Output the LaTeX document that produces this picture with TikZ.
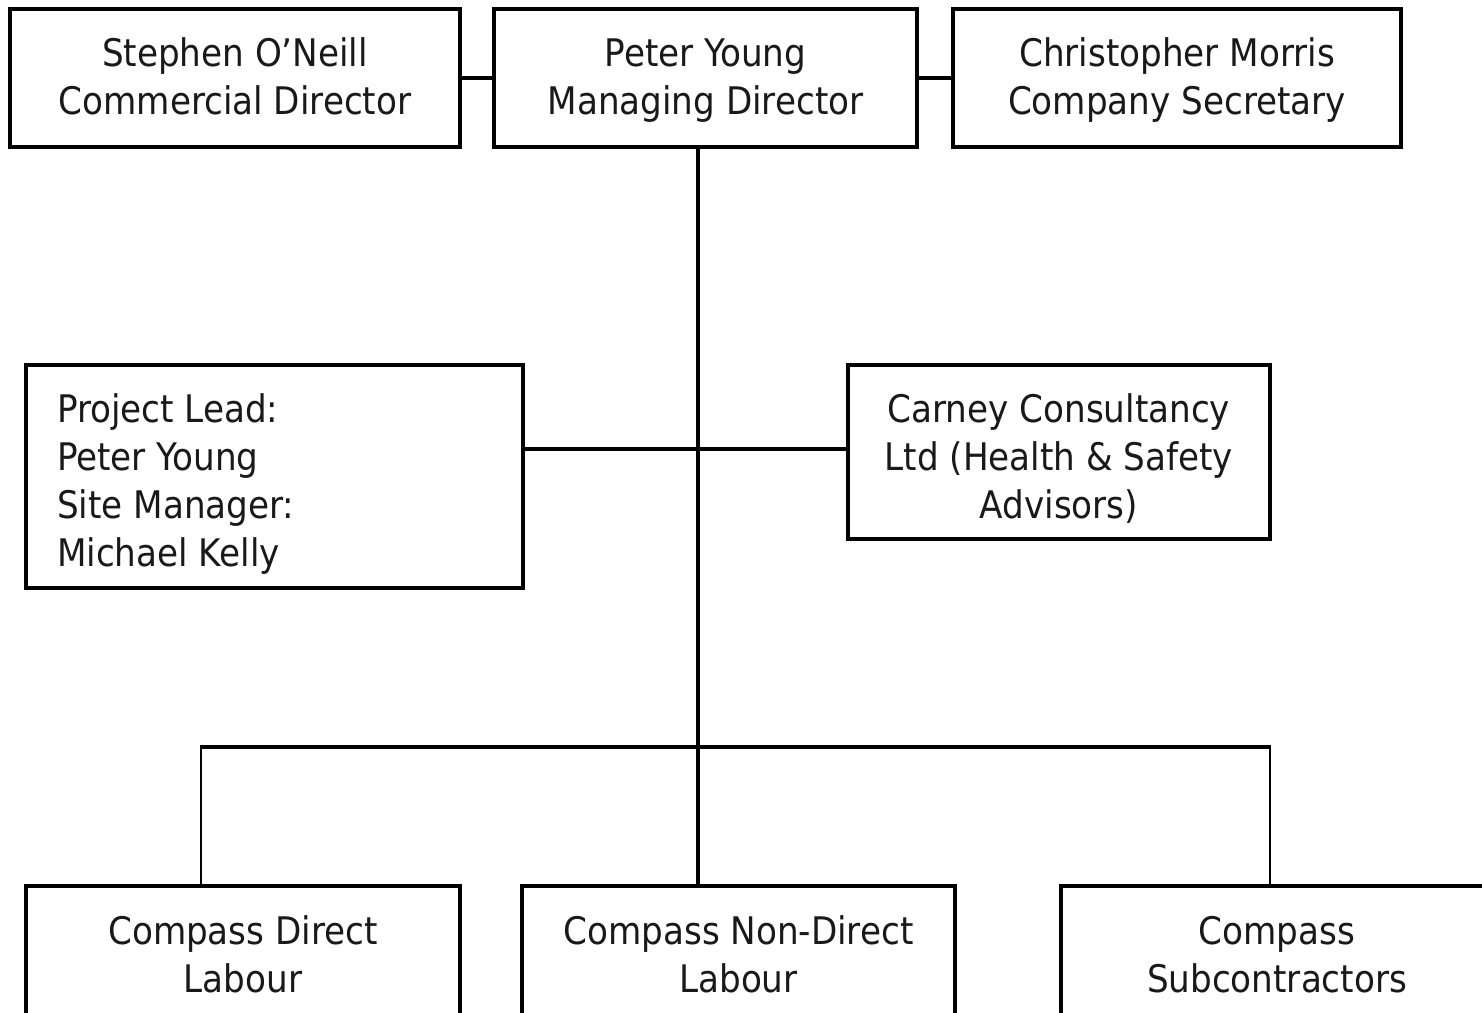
\documentclass[tikz,border=0pt]{standalone}
\usepackage{fontspec}
\setmainfont{DejaVu Sans Condensed}
\begin{document}
\begin{tikzpicture}[x=1pt,y=-1pt,
  box/.style={draw=black, line width=3.1pt, rectangle, inner sep=0pt},
  txt/.style={inner sep=0pt, align=center, text=black!90,
    font=\fontsize{38}{48}\selectfont, text depth=0pt},
  two/.style={text height=75.7pt},
  three/.style={text height=123.7pt},
  four/.style={text height=171.7pt},
  conn/.style={draw=black, line width=3.1pt},
  thin/.style={draw=black, line width=2.4pt}]
\useasboundingbox (0,0) rectangle (1482,1012);
\clip (0,0) rectangle (1482,1012);
\fill[white] (0,0) rectangle (1482,1012);
% top row
\node[box, minimum width=450pt, minimum height=138pt] (s) at (235,78) {};
\node[box, minimum width=423pt, minimum height=138pt] (p) at (705.5,78) {};
\node[box, minimum width=448pt, minimum height=138pt] (c) at (1177,78) {};
\node[txt, two] (st) at (235,77) {Stephen O’Neill\\Commercial Director};
\node[txt, two] (pt) at (705.5,77) {Peter Young\\Managing Director};
\node[txt, two] (ct) at (1177,77) {Christopher Morris\\Company Secretary};
% middle row
\node[box, minimum width=497pt, minimum height=223pt] (pl) at (274.5,476.5) {};
\node[txt, four, align=left, anchor=west] (plt) at (57,480.5) {Project Lead:\\Peter Young\\Site Manager:\\Michael Kelly};
\node[box, minimum width=422pt, minimum height=174pt] (cc) at (1059,452) {};
\node[txt, three] (cct) at (1059,457) {Carney Consultancy\\Ltd (Health \& Safety\\Advisors)};
% bottom row
\node[box, minimum width=434pt, minimum height=160pt] (d) at (243,966) {};
\node[box, minimum width=433pt, minimum height=160pt] (n) at (738.5,966) {};
\node[box, minimum width=432pt, minimum height=160pt] (sc) at (1277,966) {};
\node[txt, two] (dt) at (243,955) {Compass Direct\\Labour};
\node[txt, two] (nt) at (738.5,955) {Compass Non-Direct\\Labour};
\node[txt, two] (sct) at (1277,955) {Compass\\Subcontractors};
% junctions
\coordinate (m) at (698,449);
\coordinate (j) at (698,747);
\coordinate (jl) at (201,747);
\coordinate (jr) at (1270,747);
% connectors
\draw[conn] (s.east) -- (p.west);
\draw[conn] (p.east) -- (c.west);
\draw[conn] (p.south -| j) -- (j);
\draw[conn] (pl.east |- m) -- (cc.west |- m);
\draw[conn] ([xshift=-1.2pt]jl) -- ([xshift=1.2pt]jr);
\draw[thin] (jl) -- (jl |- d.north);
\draw[conn] (j) -- (j |- n.north);
\draw[thin] (jr) -- (jr |- sc.north);
\end{tikzpicture}
\end{document}
